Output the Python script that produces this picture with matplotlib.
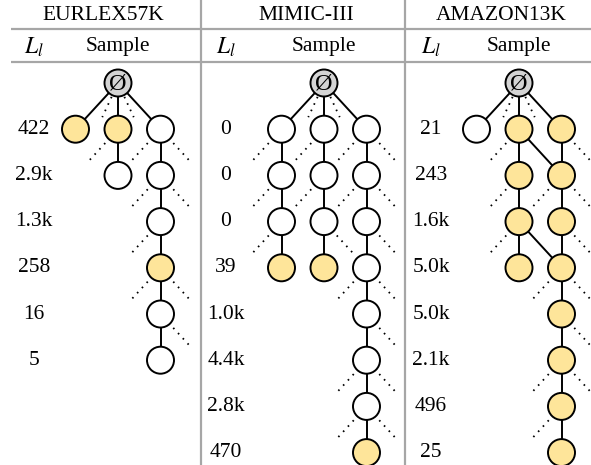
import matplotlib
matplotlib.use('Agg')
import matplotlib.pyplot as plt
from matplotlib.patches import Circle

plt.rcParams['font.family'] = ['Liberation Serif', 'DejaVu Serif']
plt.rcParams['mathtext.fontset'] = 'stix'

# DATA
datasets = ['EURLEX57K', 'MIMIC-III', 'AMAZON13K']

eurlex_labels = ['422', '2.9k', '1.3k', '258', '16', '5']
mimic_labels = ['0', '0', '0', '39', '1.0k', '4.4k', '2.8k', '470']
amazon_labels = ['21', '243', '1.6k', '5.0k', '5.0k', '2.1k', '496', '25']

# nodes: (level, column, state)  state: r=root, y=sampled, w=not sampled
eurlex_nodes = [(0, 1, 'r'), (1, 0, 'y'), (1, 1, 'y'), (1, 2, 'w'), (2, 1, 'w'), (2, 2, 'w'),
                (3, 2, 'w'), (4, 2, 'y'), (5, 2, 'w'), (6, 2, 'w')]
mimic_nodes = [(0, 1, 'r'),
               (1, 0, 'w'), (2, 0, 'w'), (3, 0, 'w'), (4, 0, 'y'),
               (1, 1, 'w'), (2, 1, 'w'), (3, 1, 'w'), (4, 1, 'y'),
               (1, 2, 'w'), (2, 2, 'w'), (3, 2, 'w'), (4, 2, 'w'), (5, 2, 'w'),
               (6, 2, 'w'), (7, 2, 'w'), (8, 2, 'y')]
amazon_nodes = [(0, 1, 'r'), (1, 0, 'w'), (1, 1, 'y'), (1, 2, 'y'),
                (2, 1, 'y'), (2, 2, 'y'), (3, 1, 'y'), (3, 2, 'y'), (4, 1, 'y'), (4, 2, 'y'),
                (5, 2, 'y'), (6, 2, 'y'), (7, 2, 'y'), (8, 2, 'y')]

# edges: (level, col) -> (level, col)
eurlex_edges = [((0, 1), (1, 0)), ((0, 1), (1, 1)), ((0, 1), (1, 2)), ((1, 1), (2, 1)),
                ((1, 2), (2, 2)), ((2, 2), (3, 2)), ((3, 2), (4, 2)), ((4, 2), (5, 2)),
                ((5, 2), (6, 2))]
mimic_edges = [((0, 1), (1, 0)), ((0, 1), (1, 1)), ((0, 1), (1, 2)),
               ((1, 0), (2, 0)), ((2, 0), (3, 0)), ((3, 0), (4, 0)),
               ((1, 1), (2, 1)), ((2, 1), (3, 1)), ((3, 1), (4, 1)),
               ((1, 2), (2, 2)), ((2, 2), (3, 2)), ((3, 2), (4, 2)), ((4, 2), (5, 2)),
               ((5, 2), (6, 2)), ((6, 2), (7, 2)), ((7, 2), (8, 2))]
amazon_edges = [((0, 1), (1, 0)), ((0, 1), (1, 1)), ((0, 1), (1, 2)),
                ((1, 1), (2, 1)), ((1, 1), (2, 2)), ((1, 2), (2, 2)),
                ((2, 1), (3, 1)), ((2, 2), (3, 2)),
                ((3, 1), (4, 1)), ((3, 1), (4, 2)), ((3, 2), (4, 2)),
                ((4, 2), (5, 2)), ((5, 2), (6, 2)), ((6, 2), (7, 2)), ((7, 2), (8, 2))]

# dotted stubs for unexplored children: (level, col, side)
eurlex_stubs = [(0, 1, -0.5), (0, 1, 0.5), (1, 1, -1), (1, 2, -1), (1, 2, 1),
                (2, 2, -1), (2, 2, 1), (3, 2, -1), (4, 2, -1), (4, 2, 1), (5, 2, 1)]
mimic_stubs = [(0, 1, -0.5), (0, 1, 0.5),
               (1, 0, -1), (1, 1, -1), (1, 2, -1), (1, 2, 1),
               (2, 0, -1), (2, 1, -1), (2, 2, -1), (2, 2, 1),
               (3, 0, -1), (3, 1, 1), (3, 2, 1),
               (4, 2, -1), (4, 2, 1), (5, 2, 1), (6, 2, -1), (6, 2, 1), (7, 2, -1), (7, 2, 1)]
amazon_stubs = [(0, 1, -0.5), (0, 1, 0.5), (1, 1, -1), (1, 2, 1),
                (2, 1, -1), (2, 2, -1), (2, 2, 1), (3, 1, -1), (3, 2, 1),
                (4, 2, -1), (4, 2, 1), (5, 2, 1), (6, 2, -1), (6, 2, 1), (7, 2, -1)]

# LAYOUT
panel_x = [0, 201, 405, 591]
label_x = [34, 226, 431]
root_x = [118, 324, 519]
root_y = 83
dx = 42.5
dy = 46.2
rad = 13.5
fills = {'r': '#d4d4d4', 'y': '#fee59a', 'w': 'white'}
fs = 15.5

fig = plt.figure(figsize=(5.91, 4.65), dpi=100)
ax = fig.add_axes([0, 0, 1, 1])
ax.set_xlim(0, 591)
ax.set_ylim(465, 0)
ax.axis('off')

# grid lines
for y in [29, 62]:
    ax.plot([11, 591], [y, y], color='#a6a6a6', lw=1.6, solid_capstyle='butt')
for x in panel_x[1:3]:
    ax.plot([x, x], [0, 465], color='#a6a6a6', lw=1.6, solid_capstyle='butt')

all_labels = [eurlex_labels, mimic_labels, amazon_labels]
all_nodes = [eurlex_nodes, mimic_nodes, amazon_nodes]
all_edges = [eurlex_edges, mimic_edges, amazon_edges]
all_stubs = [eurlex_stubs, mimic_stubs, amazon_stubs]

for i, name in enumerate(datasets):
    def pos(lev, col):
        return root_x[i] + (col - 1) * dx, root_y + lev * dy
    ax.text((panel_x[i] + panel_x[i + 1]) / 2 + 3, 16, name, ha='center', va='center', fontsize=fs)
    ax.text(label_x[i], 47, r'$L_l$', ha='center', va='center', fontsize=fs + 1.5)
    ax.text(root_x[i], 46, 'Sample', ha='center', va='center', fontsize=fs)
    for k, lab in enumerate(all_labels[i]):
        ax.text(label_x[i], root_y + (k + 1) * dy, lab, ha='center', va='center', fontsize=fs)
    for (a, b) in all_edges[i]:
        x0, y0 = pos(*a)
        x1, y1 = pos(*b)
        ax.plot([x0, x1], [y0, y1], color='black', lw=1.4, zorder=1)
    for (lev, col, side) in all_stubs[i]:
        x0, y0 = pos(lev, col)
        x1, y1 = x0 + side * dx, y0 + dy
        t0, t1 = 0.3, 0.74
        ax.plot([x0 + t0 * (x1 - x0), x0 + t1 * (x1 - x0)],
                [y0 + t0 * (y1 - y0), y0 + t1 * (y1 - y0)],
                color='black', lw=1.3, linestyle=(0, (0.9, 3)), zorder=1)
    for (lev, col, st) in all_nodes[i]:
        x0, y0 = pos(lev, col)
        ax.add_patch(Circle((x0, y0), rad, facecolor=fills[st], edgecolor='black', lw=1.4, zorder=2))
        if st == 'r':
            ax.text(x0, y0 + 1, 'Ø', ha='center', va='center', fontsize=fs + 2, zorder=3)

fig.savefig('out.png', dpi=100)
